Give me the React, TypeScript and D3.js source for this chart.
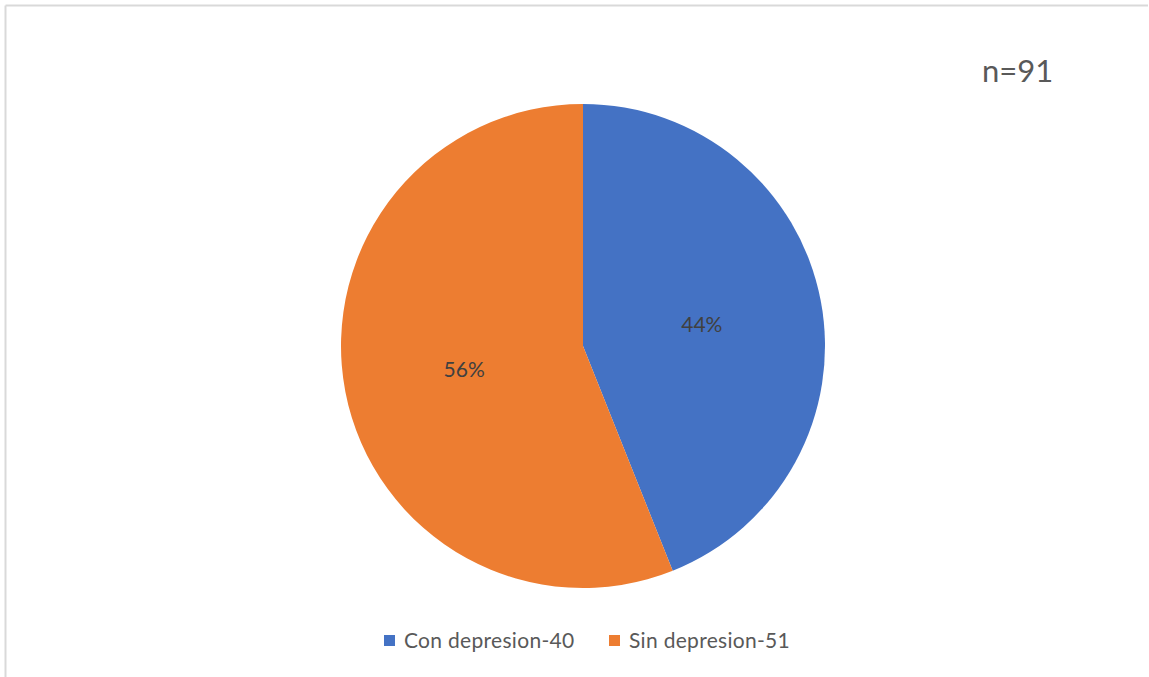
import React from "react";
import * as d3 from "d3";

const categories = ["Con depresion", "Sin depresion"];
const counts = [40, 51];
const colors = ["#4472C4", "#ED7D31"];
const totalLabel = "n=91";

const W = 1149;
const H = 677;
const cx = 583;
const cy = 346;
const R = 242;

export default function App() {
  const total = d3.sum(counts);
  const pie = d3.pie<number>().sort(null).value((d) => d);
  const arcs = pie(counts);
  const arcGen = d3.arc<d3.PieArcDatum<number>>().innerRadius(0).outerRadius(R);
  const labelArc = d3.arc<d3.PieArcDatum<number>>().innerRadius(R * 0.5).outerRadius(R * 0.5);
  const font = "Lato, 'Open Sans', sans-serif";

  const legendItems = categories.map((c, i) => `${c}-${counts[i]}`);
  const legendX = [384, 609];

  return (
    <svg
      width={W}
      height={H}
      style={{ position: "fixed", left: 0, top: 0, background: "#fff" }}
    >
      <rect x={0} y={0} width={W} height={H} fill="#fff" />
      <line x1={5.5} y1={5.5} x2={1148} y2={5.5} stroke="#d9d9d9" strokeWidth={2} />
      <line x1={5.5} y1={5.5} x2={5.5} y2={H} stroke="#d9d9d9" strokeWidth={2} />
      <g transform={`translate(${cx},${cy})`}>
        {arcs.map((a, i) => (
          <path key={i} d={arcGen(a) || ""} fill={colors[i]} />
        ))}
        {arcs.map((a, i) => {
          const [x, y] = labelArc.centroid(a);
          return (
            <text
              key={"l" + i}
              x={x}
              y={y}
              textAnchor="middle"
              dominantBaseline="central"
              fontFamily={font}
              fontSize={21}
              fill="#404040"
            >
              {Math.round((a.data / total) * 100)}%
            </text>
          );
        })}
      </g>
      <text x={982} y={82} fontFamily={font} fontSize={31} fill="#595959">
        {totalLabel}
      </text>
      {legendItems.map((t, i) => (
        <g key={"lg" + i}>
          <rect x={legendX[i]} y={635} width={11} height={11} fill={colors[i]} />
          <text
            x={legendX[i] + 20}
            y={648}
            fontFamily={font}
            fontSize={21}
            letterSpacing={0.3}
            fill="#595959"
          >
            {t}
          </text>
        </g>
      ))}
    </svg>
  );
}
